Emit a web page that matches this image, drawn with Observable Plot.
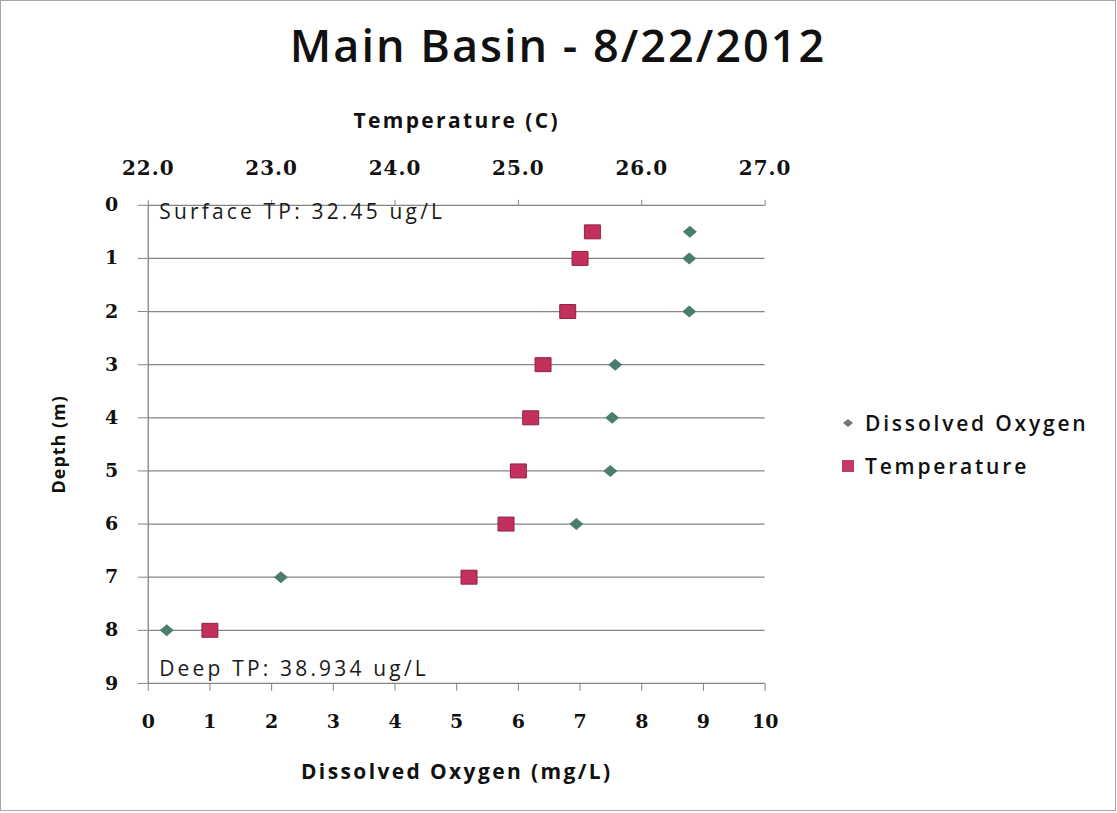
<!DOCTYPE html>
<html><head><meta charset="utf-8">
<script src="https://cdn.jsdelivr.net/npm/d3@7"></script>
<script src="https://cdn.jsdelivr.net/npm/@observablehq/plot@0.6"></script>
<style>
html,body{margin:0;padding:0;background:#fff;}
#wrap{position:relative;width:1116px;height:811px;border:1px solid #a6a6a6;box-sizing:border-box;background:#fff;overflow:hidden;}
#title{position:absolute;left:0;width:100%;top:21px;text-align:center;font-family:"Open Sans";font-size:45px;line-height:1;font-weight:600;color:#111;letter-spacing:2px;}
#chart{position:absolute;left:-1px;top:89px;}
#legend{position:absolute;left:839px;top:407px;font-family:"Open Sans";font-size:21px;font-weight:600;color:#111;letter-spacing:2.8px;}
.row{display:flex;align-items:center;height:30px;margin-bottom:13px;}
.row svg{margin-right:9px;}
</style></head>
<body>
<div id="wrap">
  <div id="title"></div>
  <div id="chart"></div>
  <div id="legend"></div>
</div>
<script>
const chartTitle = "Main Basin - 8/22/2012";
const depths = [0.5, 1, 2, 3, 4, 5, 6, 7, 8];
const dissolvedOxygen = [8.78, 8.77, 8.77, 7.57, 7.52, 7.49, 6.94, 2.15, 0.30];
const temperature = [25.6, 25.5, 25.4, 25.2, 25.1, 25.0, 24.9, 24.6, 22.5];
const depthTicks = [0, 1, 2, 3, 4, 5, 6, 7, 8, 9];
const doTicks = [0, 1, 2, 3, 4, 5, 6, 7, 8, 9, 10];
const tempTicks = [22, 23, 24, 25, 26, 27];
const seriesNames = ["Dissolved Oxygen", "Temperature"];
const seriesColors = ["#4a7c70", "#c4305c"];
const annotations = ["Surface TP: 32.45 ug/L", "Deep TP: 38.934 ug/L"];

// temperature is drawn on the shared x scale: map the temperature range onto the DO range
const tMin = tempTicks[0], tMax = tempTicks[tempTicks.length - 1];
const doMax = doTicks[doTicks.length - 1];
const tempToX = t => (t - tMin) * doMax / (tMax - tMin);
const xToTemp = x => tMin + x * (tMax - tMin) / doMax;

const doData = depths.map((d, i) => ({depth: d, value: dissolvedOxygen[i]}));
const tempData = depths.map((d, i) => ({depth: d, value: temperature[i]}));

const diamondSym = {draw(ctx) { ctx.moveTo(0, -6); ctx.lineTo(7, 0); ctx.lineTo(0, 6); ctx.lineTo(-7, 0); ctx.closePath(); }};
const squareSym = {draw(ctx) { ctx.moveTo(-8, -7); ctx.lineTo(8, -7); ctx.lineTo(8, 7); ctx.lineTo(-8, 7); ctx.closePath(); }};

document.getElementById("title").textContent = chartTitle;

const svg = Plot.plot({
  width: 1117,
  height: 723,
  marginLeft: 148,
  marginRight: 351,
  marginTop: 115,
  marginBottom: 129,
  style: {fontFamily: "DejaVu Serif", fontSize: "19px", color: "#111", background: "transparent", overflow: "visible"},
  x: {domain: [0, doMax]},
  y: {domain: [depthTicks[0], depthTicks[depthTicks.length - 1]], reverse: true},
  marks: [
    Plot.ruleY(depthTicks, {stroke: "#858585", strokeWidth: 1.3}),
    Plot.ruleX([0], {stroke: "#858585", strokeWidth: 1.3}),
    Plot.axisY({ticks: depthTicks, tickSize: 10, tickPadding: 20, tickFormat: d => String(d),
      label: "Depth (m)", labelAnchor: "center", labelArrow: "none", labelOffset: 96,
      stroke: "#858585", fontSize: 19, fontWeight: "bold", fontFamily: "DejaVu Serif"}),
    Plot.axisX({anchor: "bottom", ticks: doTicks, tickSize: 8, tickPadding: 23, tickFormat: d => String(d),
      label: "Dissolved Oxygen (mg/L)", labelAnchor: "center", labelArrow: "none", labelOffset: 96,
      stroke: "#858585", fontSize: 19, fontWeight: "bold", fontFamily: "DejaVu Serif"}),
    Plot.axisX({anchor: "top", ticks: tempTicks.map(tempToX), tickSize: 6, tickPadding: 24,
      tickFormat: d => xToTemp(d).toFixed(1),
      label: "Temperature (C)", labelAnchor: "center", labelArrow: "none", labelOffset: 92,
      stroke: "#858585", fontSize: 20, fontWeight: "bold", fontFamily: "DejaVu Serif"}),
    Plot.dot(doData, {x: "value", y: "depth", symbol: diamondSym, fill: seriesColors[0], r: 5}),
    Plot.dot(tempData, {x: d => tempToX(d.value), y: "depth", symbol: squareSym, fill: seriesColors[1], stroke: "#8e2145", strokeWidth: 1, r: 8}),
    Plot.text([annotations[0]], {text: d => d, frameAnchor: "top-left", dx: 11, dy: 7, lineAnchor: "middle", textAnchor: "start",
      fontFamily: "Open Sans", fontSize: 21, fontWeight: 500, fill: "#1a1a1a"}),
    Plot.text([annotations[1]], {text: d => d, frameAnchor: "bottom-left", dx: 11, dy: -14, lineAnchor: "middle", textAnchor: "start",
      fontFamily: "Open Sans", fontSize: 21, fontWeight: 500, fill: "#1a1a1a"})
  ]
});

// text styling
const s = d3.select(svg);
s.selectAll('g[aria-label="x-axis label"], g[aria-label="y-axis label"]')
  .attr("font-family", "Open Sans").attr("font-weight", 700).attr("font-size", 21)
  .style("letter-spacing", "2.4px");
s.selectAll('g[aria-label="y-axis label"]').attr("font-size", 18).style("letter-spacing", "1px");
const xTickLabels = s.selectAll('g[aria-label="x-axis tick label"]').nodes();
if (xTickLabels[1]) d3.select(xTickLabels[1]).style("letter-spacing", "1px");
s.selectAll('g[aria-label="text"]').style("letter-spacing", "3.2px");

document.getElementById("chart").appendChild(svg);

// legend
const legend = d3.select("#legend");
seriesNames.forEach((name, i) => {
  const row = legend.append("div").attr("class", "row");
  const sv = row.append("svg").attr("width", 16).attr("height", 16);
  if (i === 0) {
    sv.append("path").attr("d", "M8,4 L13,8 L8,12 L3,8 Z").attr("fill", "#6e7777");
  } else {
    sv.append("rect").attr("x", 2).attr("y", 2).attr("width", 12).attr("height", 12).attr("fill", "#c23a6a");
  }
  row.append("span").text(name);
});
</script>
</body></html>
